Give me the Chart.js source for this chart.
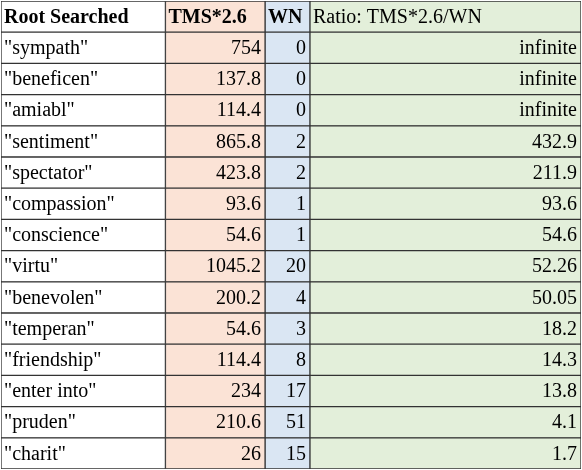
<!DOCTYPE html>
<html>
<head>
<meta charset="utf-8">
<script src="https://cdn.jsdelivr.net/npm/chart.js@4"></script>
<style>
  html, body { margin: 0; padding: 0; background: #fff; }
  #wrap { width: 582px; height: 470px; }
</style>
</head>
<body>
<div id="wrap"><canvas id="tbl"></canvas></div>
<script>
const headers = ["Root Searched", "TMS*2.6", "WN", "Ratio: TMS*2.6/WN"];
const roots = ['"sympath"', '"beneficen"', '"amiabl"', '"sentiment"', '"spectator"', '"compassion"',
  '"conscience"', '"virtu"', '"benevolen"', '"temperan"', '"friendship"', '"enter into"', '"pruden"', '"charit"'];
const tms = ["754", "137.8", "114.4", "865.8", "423.8", "93.6", "54.6", "1045.2", "200.2", "54.6", "114.4", "234", "210.6", "26"];
const wn = ["0", "0", "0", "2", "2", "1", "1", "20", "4", "3", "8", "17", "51", "15"];
const ratio = ["infinite", "infinite", "infinite", "432.9", "211.9", "93.6", "54.6", "52.26", "50.05", "18.2", "14.3", "13.8", "4.1", "1.7"];

const colWidths = [165, 100, 45, 272];
const colColors = ["#ffffff", "#fbe3d6", "#dae6f3", "#e3efda"];
const rows = ["header"].concat(roots);

const tableText = {
  id: "tableText",
  afterDatasetsDraw(chart) {
    const ctx = chart.ctx;
    const x = chart.scales.x;
    const y = chart.scales.y;
    const cols = [roots, tms, wn, ratio];
    ctx.save();
    ctx.fillStyle = "#000";
    ctx.textBaseline = "middle";
    rows.forEach((r, i) => {
      const yc = y.getPixelForValue(i) + 1;
      let left = 0;
      for (let c = 0; c < 4; c++) {
        const x0 = x.getPixelForValue(left);
        const x1 = x.getPixelForValue(left + colWidths[c]);
        left += colWidths[c];
        let txt, align;
        if (i === 0) {
          txt = headers[c];
          ctx.font = (c < 3 ? "bold " : "") + "20px 'Liberation Serif'";
          align = "left";
        } else {
          txt = cols[c][i - 1];
          ctx.font = "20px 'Liberation Serif'";
          align = c === 0 ? "left" : "right";
        }
        ctx.textAlign = align;
        ctx.fillText(txt, align === "left" ? x0 + 3 : x1 - 4, yc);
      }
    });
    ctx.restore();
  }
};

new Chart(document.querySelector("#tbl"), {
  type: "bar",
  data: {
    labels: rows,
    datasets: colWidths.map((w, c) => ({
      data: rows.map(() => w),
      backgroundColor: colColors[c],
      borderColor: "#333",
      borderWidth: 1,
      borderSkipped: false,
      barPercentage: 1,
      categoryPercentage: 1,
    })),
  },
  options: {
    indexAxis: "y",
    responsive: true,
    maintainAspectRatio: false,
    animation: false,
    layout: { padding: 1 },
    scales: {
      x: { stacked: true, min: 0, max: 582, display: false },
      y: { stacked: true, display: false },
    },
    plugins: { legend: { display: false }, tooltip: { enabled: false } },
  },
  plugins: [tableText],
});
</script>
</body>
</html>
